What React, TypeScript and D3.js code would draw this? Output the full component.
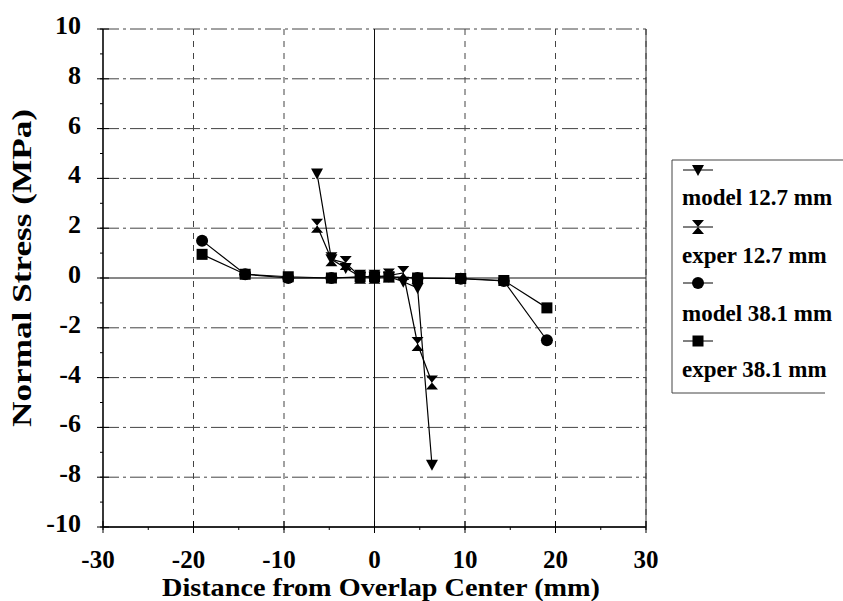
import React from "react";
import * as d3 from "d3";

const xTicks = [-30, -20, -10, 0, 10, 20, 30];
const yTicks = [-10, -8, -6, -4, -2, 0, 2, 4, 6, 8, 10];

const model127X = [-6.35, -4.76, -3.18, -1.59, 0, 1.59, 3.18, 4.76, 6.35];
const model127Y = [4.2, 0.75, 0.4, 0.05, 0.05, 0.05, -0.15, -0.4, -7.5];
const exper127X = [-6.35, -4.76, -3.18, -1.59, 0, 1.59, 3.18, 4.76, 6.35];
const exper127Y = [2.1, 0.75, 0.6, 0.05, 0.05, 0.1, 0.2, -2.65, -4.2];
const model381X = [-19.05, -14.29, -9.53, -4.76, 0, 4.76, 9.53, 14.29, 19.05];
const model381Y = [1.5, 0.15, 0.0, 0.0, 0.05, 0.0, -0.03, -0.12, -2.5];
const exper381X = [-19.05, -14.29, -9.53, -4.76, -1.59, 0, 1.59, 4.76, 9.53, 14.29, 19.05];
const exper381Y = [0.95, 0.15, 0.05, 0.0, 0.05, 0.05, 0.05, 0.0, -0.02, -0.1, -1.2];

const seriesNames = ["model 12.7 mm", "exper 12.7 mm", "model 38.1 mm", "exper 38.1 mm"];
const seriesShapes = ["tri", "hour", "circle", "square"];

const FONT = "'Liberation Serif', 'Times New Roman', serif";

function Marker({ shape, x, y }: { shape: string; x: number; y: number }) {
  if (shape === "circle") return <circle cx={x} cy={y} r={6} fill="#000" />;
  if (shape === "square") return <rect x={x - 5.5} y={y - 5.5} width={11} height={11} fill="#000" />;
  if (shape === "tri")
    return <path d={`M${x - 6},${y - 5} L${x + 6},${y - 5} L${x},${y + 6} Z`} fill="#000" />;
  return (
    <path
      d={`M${x - 6},${y - 7} L${x + 6},${y - 7} L${x},${y} Z M${x - 6},${y + 7} L${x + 6},${y + 7} L${x},${y} Z`}
      fill="#000"
    />
  );
}

export default function App() {
  const left = 103, right = 646, top = 29, bottom = 527;
  const x = d3.scaleLinear().domain([-30, 30]).range([left, right]);
  const y = d3.scaleLinear().domain([-10, 10]).range([bottom, top]);
  const line = d3.line<[number, number]>().x((d) => x(d[0])).y((d) => y(d[1]));

  const series = [
    { xs: model127X, ys: model127Y },
    { xs: exper127X, ys: exper127Y },
    { xs: model381X, ys: model381Y },
    { xs: exper381X, ys: exper381Y },
  ].map((s, i) => ({
    pts: s.xs.map((v, j) => [v, s.ys[j]] as [number, number]),
    shape: seriesShapes[i],
    name: seriesNames[i],
  }));

  const minorX = d3.range(-30, 31, 5);
  const minorY = d3.range(-10, 10.1, 1);

  const legX = 672, legTop = 160, legBottom = 393;
  const legRows = [170, 227, 283, 341];
  const legText = [205, 263, 321, 377];

  return (
    <svg width={843} height={601} style={{ position: "absolute", left: 0, top: 0, background: "#fff" }}>
      <rect width={843} height={601} fill="#fff" />
      {/* gridlines */}
      {yTicks.map((t) => (
        <line key={"gy" + t} x1={left} x2={right} y1={y(t)} y2={y(t)}
          stroke={t === 0 ? "#111" : "#444"} strokeWidth={1}
          strokeDasharray={t === 0 || t === -10 ? undefined : "16,4,3,4"} />
      ))}
      {xTicks.map((t) => (
        <line key={"gx" + t} x1={x(t)} x2={x(t)} y1={top} y2={bottom}
          stroke={t === 0 ? "#111" : "#444"} strokeWidth={1}
          strokeDasharray={t === 0 || t === -30 ? undefined : "6,6"} />
      ))}
      {/* axes */}
      <line x1={left} x2={left} y1={top} y2={bottom} stroke="#000" strokeWidth={1.3} />
      <line x1={left} x2={right} y1={bottom} y2={bottom} stroke="#000" strokeWidth={1.3} />
      <line x1={right} x2={right} y1={top} y2={bottom} stroke="#333" strokeWidth={1} />
      {yTicks.map((t) => (
        <line key={"ty" + t} x1={left - 6} x2={left + 6} y1={y(t)} y2={y(t)} stroke="#000" />
      ))}
      {minorY.map((t) => (
        <line key={"my" + t} x1={left - 3} x2={left} y1={y(t)} y2={y(t)} stroke="#000" />
      ))}
      {xTicks.map((t) => (
        <line key={"tx" + t} x1={x(t)} x2={x(t)} y1={bottom - 6} y2={bottom + 6} stroke="#000" />
      ))}
      {minorX.map((t) => (
        <line key={"mx" + t} x1={x(t)} x2={x(t)} y1={bottom} y2={bottom + 3} stroke="#000" />
      ))}
      {/* tick labels */}
      {yTicks.map((t) => (
        <text key={"ly" + t} x={81} y={y(t) + 5} textAnchor="end"
          fontFamily={FONT} fontWeight="bold" fontSize={26}>{t}</text>
      ))}
      {xTicks.map((t) => (
        <text key={"lx" + t} x={x(t) - (t < 0 ? 5 : 0)} y={568} textAnchor="middle"
          fontFamily={FONT} fontWeight="bold" fontSize={25}>{t}</text>
      ))}
      <text x={381} y={596} textAnchor="middle" fontFamily={FONT} fontWeight="bold" fontSize={25}
        textLength={438} lengthAdjust="spacingAndGlyphs">
        Distance from Overlap Center (mm)
      </text>
      <text transform="translate(31,268) rotate(-90)" textAnchor="middle" fontFamily={FONT}
        fontWeight="bold" fontSize={27} textLength={318} lengthAdjust="spacingAndGlyphs">
        Normal Stress (MPa)
      </text>
      {/* series */}
      {series.map((s, i) => (
        <g key={"s" + i}>
          <path d={line(s.pts) || ""} fill="none" stroke="#000" strokeWidth={1.2} />
          {s.pts.map((p, j) => (
            <Marker key={j} shape={s.shape} x={x(p[0])} y={y(p[1])} />
          ))}
        </g>
      ))}
      {/* legend */}
      <path d={`M843,${legTop} L${legX},${legTop} L${legX},${legBottom} L825,${legBottom}`}
        fill="none" stroke="#444" strokeWidth={1} />
      {series.map((s, i) => (
        <g key={"leg" + i}>
          <line x1={683} x2={713} y1={legRows[i]} y2={legRows[i]} stroke="#000" strokeWidth={1} />
          <Marker shape={s.shape} x={698} y={legRows[i]} />
          <text x={682} y={legText[i]} fontFamily={FONT} fontWeight="bold" fontSize={23}>{s.name}</text>
        </g>
      ))}
    </svg>
  );
}
